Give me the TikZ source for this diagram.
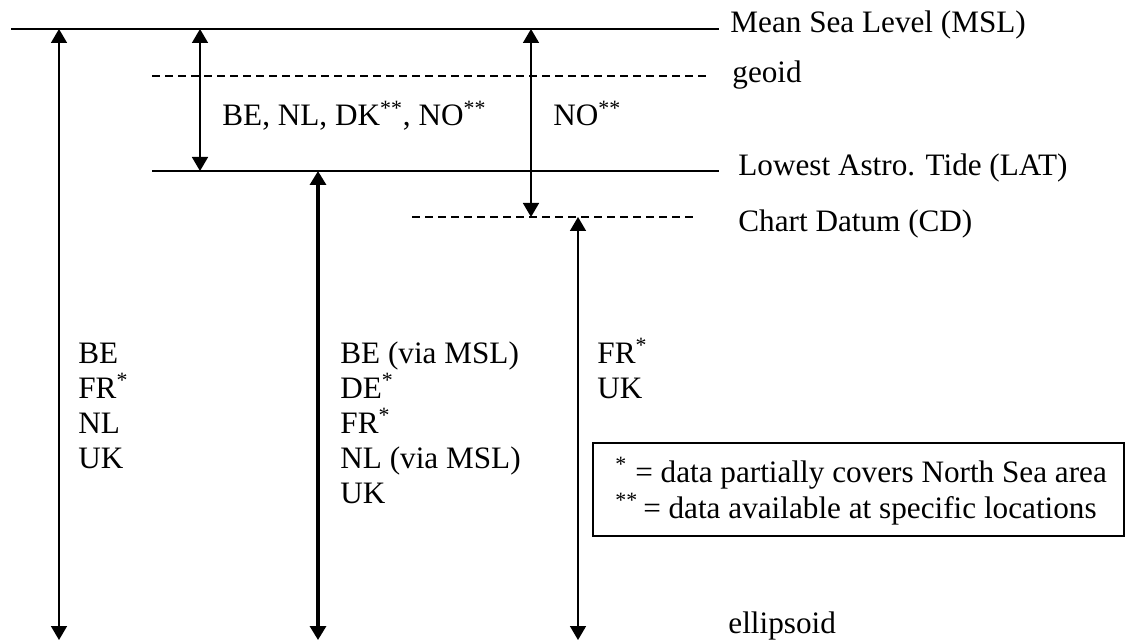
\documentclass[tikz,border=0pt]{standalone}
\usepackage{fontspec}
\setmainfont{Liberation Serif}
\usetikzlibrary{arrows.meta}

\begin{document}
\begin{tikzpicture}[x=0.5pt,y=-0.5pt,
  lbl/.style={anchor=base west,inner sep=0pt,font=\fontsize{15.6}{17.5}\selectfont},
  col/.style={lbl,align=left},
  level/.style={line width=0.8pt},
  datum/.style={level,dash pattern=on 4pt off 2.5pt},
  span/.style={line width=0.8pt,{Triangle[width=8pt,length=7pt]}-{Triangle[width=8pt,length=7pt]}}]
\useasboundingbox (0,0) rectangle (1138,641);
% levels
\coordinate (msl0) at (11,29);   \coordinate (msl1) at (719,29);
\coordinate (geo0) at (152,76);  \coordinate (geo1) at (710,76);
\coordinate (lat0) at (152,171); \coordinate (lat1) at (719,171);
\coordinate (cd0) at (412,217);  \coordinate (cd1) at (695,217);
\draw[level] (msl0) -- (msl1);
\draw[datum] (geo0) -- (geo1);
\draw[level] (lat0) -- (lat1);
\draw[datum] (cd0) -- (cd1);
\node[lbl] (MSL) at (730,33) {Mean Sea Level (MSL)};
\node[lbl] (GEO) at (732,83) {geoid};
\node[lbl] (LAT) at (738,176) {Lowest Astro. Tide (LAT)};
\node[lbl] (CD) at (738,232) {Chart Datum (CD)};
\node[lbl] (ELL) at (728,633) {ellipsoid};
% arrows
\coordinate (a1t) at (59,29);   \coordinate (a1b) at (59,640);
\coordinate (a2t) at (200,29);  \coordinate (a2b) at (200,171);
\coordinate (a3t) at (318,171); \coordinate (a3b) at (318,640);
\coordinate (a4t) at (531,29);  \coordinate (a4b) at (531,217);
\coordinate (a5t) at (578,217); \coordinate (a5b) at (578,640);
\draw[span] (a1t) -- (a1b);
\draw[span] (a2t) -- (a2b);
\draw[span,line width=1.6pt] (a3t) -- (a3b);
\draw[span] (a4t) -- (a4b);
\draw[span] (a5t) -- (a5b);
% country lists (anchor is the last line)
\node[lbl] (LATMSL) at (222,126) {BE, NL, DK\textsuperscript{**}, NO\textsuperscript{**}};
\node[lbl] (CDMSL) at (553,126) {NO\textsuperscript{**}};
\node[col] (MSLELL) at (78,468) {BE\\FR\textsuperscript{*}\\NL\\UK};
\node[col] (LATELL) at (340,503) {BE (via MSL)\\DE\textsuperscript{*}\\FR\textsuperscript{*}\\NL (via MSL)\\UK};
\node[col] (CDELL) at (597,398) {FR\textsuperscript{*}\\UK};
% legend
\draw[level] (593,443) rectangle (1124,536);
\node[col,font=\fontsize{15.6}{18}\selectfont] (legend) at (615,518)
  {\textsuperscript{*}\hspace{4pt}= data partially covers North Sea area\\
   \textsuperscript{**}\hspace{2.5pt}= data available at specific locations};
\end{tikzpicture}
\end{document}
